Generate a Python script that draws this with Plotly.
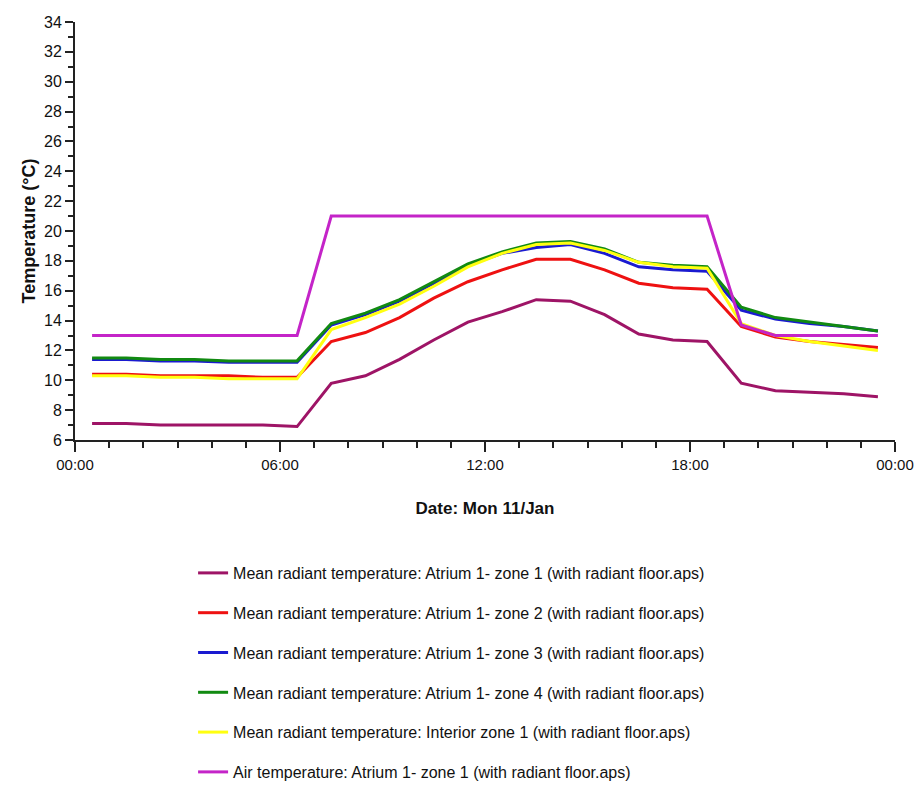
import plotly.graph_objects as go

hours = ["00:30", "01:30", "02:30", "03:30", "04:30", "05:30", "06:30", "07:30",
         "08:30", "09:30", "10:30", "11:30", "12:30", "13:30", "14:30", "15:30",
         "16:30", "17:30", "18:30", "19:30", "20:30", "21:30", "22:30", "23:30"]
times = ["2021-01-11 " + h for h in hours]

zone1 = [7.1, 7.1, 7.0, 7.0, 7.0, 7.0, 6.9, 9.8, 10.3, 11.4, 12.7, 13.9, 14.6, 15.4,
         15.3, 14.4, 13.1, 12.7, 12.6, 9.8, 9.3, 9.2, 9.1, 8.9]
zone2 = [10.4, 10.4, 10.3, 10.3, 10.3, 10.2, 10.2, 12.6, 13.2, 14.2, 15.5, 16.6, 17.4, 18.1,
         18.1, 17.4, 16.5, 16.2, 16.1, 13.6, 12.9, 12.6, 12.4, 12.2]
zone3 = [11.4, 11.4, 11.3, 11.3, 11.2, 11.2, 11.2, 13.7, 14.4, 15.3, 16.5, 17.7, 18.5, 18.9,
         19.1, 18.5, 17.6, 17.4, 17.3, 14.7, 14.1, 13.8, 13.6, 13.3]
zone4 = [11.5, 11.5, 11.4, 11.4, 11.3, 11.3, 11.3, 13.8, 14.5, 15.4, 16.6, 17.8, 18.6, 19.2,
         19.3, 18.8, 17.9, 17.7, 17.6, 14.9, 14.2, 13.9, 13.6, 13.3]
interior = [10.3, 10.3, 10.2, 10.2, 10.1, 10.1, 10.1, 13.4, 14.2, 15.1, 16.3, 17.6, 18.5, 19.1,
            19.2, 18.7, 17.9, 17.6, 17.5, 13.8, 13.0, 12.6, 12.3, 12.0]
air = [13, 13, 13, 13, 13, 13, 13, 21, 21, 21, 21, 21, 21, 21,
       21, 21, 21, 21, 21, 13.7, 13, 13, 13, 13]

names = [
    "Mean radiant temperature: Atrium 1- zone 1 (with radiant floor.aps)",
    "Mean radiant temperature: Atrium 1- zone 2 (with radiant floor.aps)",
    "Mean radiant temperature: Atrium 1- zone 3 (with radiant floor.aps)",
    "Mean radiant temperature: Atrium 1- zone 4 (with radiant floor.aps)",
    "Mean radiant temperature: Interior zone 1 (with radiant floor.aps)",
    "Air temperature: Atrium 1- zone 1 (with radiant floor.aps)",
]
series = [zone1, zone2, zone3, zone4, interior, air]
colors = ["#9E1466", "#EE1111", "#1A1AD0", "#118A11", "#FFFF10", "#C424C8"]

fig = go.Figure()
for i, (nm, ys, c) in enumerate(zip(names, series, colors)):
    fig.add_trace(go.Scatter(x=times, y=ys, mode="lines", name=nm,
                             legendgroup=f"g{i}",
                             line=dict(color=c, width=3)))

font = "Liberation Sans, Arial, sans-serif"
fig.update_layout(
    width=940, height=830,
    margin=dict(l=67, r=53, t=14, b=398),
    paper_bgcolor="white", plot_bgcolor="white",
    font=dict(family=font, size=16, color="#111"),
    showlegend=True,
    legend=dict(x=0.144, y=-0.2775, xanchor="left", yanchor="top",
                orientation="v", traceorder="grouped", tracegroupgap=16,
                font=dict(size=16, color="#111"), itemwidth=30,
                bgcolor="rgba(0,0,0,0)"),
    xaxis=dict(
        type="date", automargin=False, ticklabeloverflow="allow",
        range=["2021-01-11 00:00", "2021-01-12 00:00"],
        tickformat="%H:%M", dtick=6 * 3600 * 1000,
        tick0="2021-01-11 00:00",
        ticks="outside", ticklen=10, tickwidth=2, tickcolor="#222",
        showline=True, linecolor="#222", linewidth=2,
        showgrid=False, zeroline=False,
        minor=dict(dtick=3600 * 1000, ticks="outside", ticklen=6,
                   tickwidth=2, tickcolor="#222", showgrid=False),
        title=dict(text="<b>Date: Mon 11/Jan</b>", standoff=30,
                   font=dict(size=17)),
        tickfont=dict(size=15),
    ),
    yaxis=dict(
        range=[6, 34], dtick=2, tick0=6, automargin=False,
        ticks="outside", ticklen=8, tickwidth=2, tickcolor="#222",
        showline=True, linecolor="#222", linewidth=2,
        showgrid=False, zeroline=False,
        minor=dict(dtick=1, ticks="outside", ticklen=5, tickwidth=2,
                   tickcolor="#222", showgrid=False),
        title=dict(text="<b>Temperature (°C)</b>", standoff=4,
                   font=dict(size=18)),
        tickfont=dict(size=16),
    ),
)

fig.write_html("out.html")
